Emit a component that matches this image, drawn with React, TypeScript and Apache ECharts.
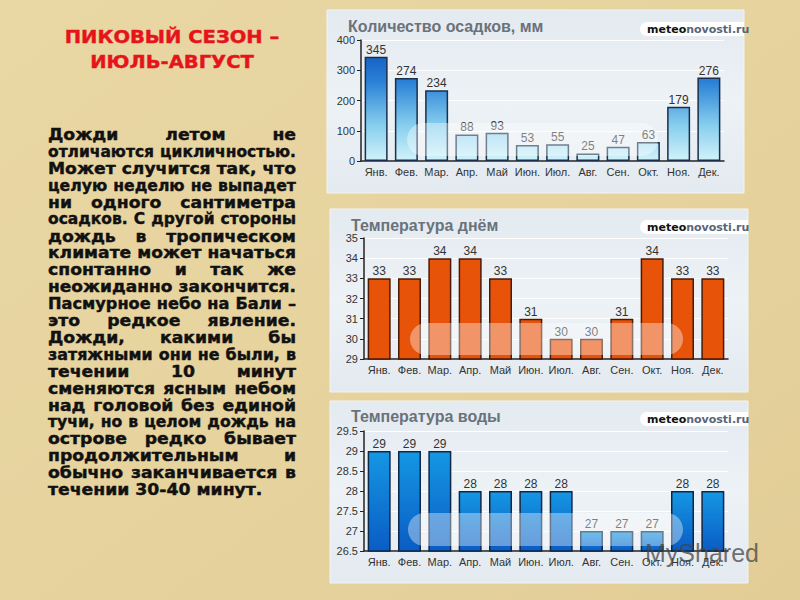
import React, { useEffect, useRef } from "react";
import * as echarts from "echarts";

const months = ["Янв.", "Фев.", "Мар.", "Апр.", "Май", "Июн.", "Июл.", "Авг.", "Сен.", "Окт.", "Ноя.", "Дек."];
const precip = [345, 274, 234, 88, 93, 53, 55, 25, 47, 63, 179, 276];
const dayTemp = [33, 33, 34, 34, 33, 31, 30, 30, 31, 34, 33, 33];
const waterTemp = [29, 29, 29, 28, 28, 28, 28, 27, 27, 27, 28, 28];

const titleLines = ["ПИКОВЫЙ СЕЗОН –", "ИЮЛЬ-АВГУСТ"];
const bodyLines = [
  "Дожди летом не",
  "отличаются цикличностью.",
  "Может случится так, что",
  "целую неделю не выпадет",
  "ни одного сантиметра",
  "осадков. С другой стороны",
  "дождь в тропическом",
  "климате может начаться",
  "спонтанно и так же",
  "неожиданно закончится.",
  "Пасмурное небо на Бали –",
  "это редкое явление.",
  "Дожди, какими бы",
  "затяжными они не были, в",
  "течении 10 минут",
  "сменяются ясным небом",
  "над головой без единой",
  "тучи, но в целом дождь на",
  "острове редко бывает",
  "продолжительным и",
  "обычно заканчивается в",
  "течении 30-40 минут.",
];
const panelTitles = ["Количество осадков, мм", "Температура днём", "Температура воды"];

const BODY_SIZE = 15;
const WIDE = 1.15;

function buildBody(): any[] {
  const canvas = document.createElement("canvas");
  const ctx = canvas.getContext("2d")!;
  ctx.font = `bold ${BODY_SIZE}px "DejaVu Sans"`;
  const left = 48;
  const right = 296;
  const W = right - left;
  const out: any[] = [];
  bodyLines.forEach((line, i) => {
    const y = 135 + i * 16.9;
    const words = line.split(" ");
    const last = i === bodyLines.length - 1;
    const widths = words.map((w) => ctx.measureText(w).width);
    const sum = widths.reduce((a, b) => a + b, 0);
    const spaceW = ctx.measureText(" ").width;
    const minGap = 6;
    let scale = Math.min(WIDE, (W - minGap * (words.length - 1)) / sum);
    let gap = words.length > 1 ? (W - sum * scale) / (words.length - 1) : 0;
    if (last) gap = spaceW * scale;
    let x = left;
    words.forEach((w, k) => {
      out.push({
        type: "text",
        x: x,
        y: y,
        scaleX: scale,
        style: {
          text: w,
          fill: "#111111",
          stroke: "#111111",
          lineWidth: 0.4,
          fontSize: BODY_SIZE,
          fontWeight: "bold",
          fontFamily: "DejaVu Sans",
          verticalAlign: "middle",
          align: "left",
        },
      });
      x += widths[k] * scale + gap;
    });
  });
  return out;
}

const panels = [
  { x: 327, y: 10, w: 417, h: 183, tx: 348, ty: 26, py: 22, pill: [407, 123, 251, 33] },
  { x: 330, y: 209, w: 418, h: 183, tx: 351, ty: 225, py: 220, pill: [410, 323, 273, 32] },
  { x: 330, y: 401, w: 418, h: 182, tx: 351, ty: 416, py: 412, pill: [408, 513, 275, 33] },
];

export default function App() {
  const ref = useRef<HTMLDivElement>(null);
  useEffect(() => {
    if (!ref.current) return;
    const chart = echarts.init(ref.current, null, { renderer: "svg" });

    const bg: any[] = [
      {
        type: "rect",
        shape: { x: 0, y: 0, width: 800, height: 600 },
        style: {
          fill: new echarts.graphic.LinearGradient(0, 0, 1, 1, [
            { offset: 0, color: "#e9d7a4" },
            { offset: 0.5, color: "#e6d39e" },
            { offset: 1, color: "#e2cd97" },
          ]),
        },
        z: -10,
      },
    ];
    panels.forEach((p, i) => {
      bg.push({
        type: "rect",
        shape: { x: p.x, y: p.y, width: p.w, height: p.h },
        style: {
          fill: new echarts.graphic.LinearGradient(0, 0, 0, 1, [
            { offset: 0, color: "#e3eaf0" },
            { offset: 0.5, color: "#edf2f6" },
            { offset: 1, color: "#e3eaf0" },
          ]),
          stroke: "#f2f4f4",
          lineWidth: 1,
        },
        z: -5,
      });
      bg.push({
        type: "text",
        x: p.tx,
        y: p.ty,
        style: {
          text: panelTitles[i],
          fill: "#6b7279",
          fontSize: 16,
          fontWeight: "bold",
          fontFamily: "Liberation Sans",
          verticalAlign: "middle",
        },
        z: -4,
      });
      bg.push({
        type: "rect",
        shape: { x: 640, y: p.py, width: p.x + p.w - 640, height: 14, r: [7, 0, 0, 7] },
        style: { fill: "#ffffff" },
        z: -4,
      });
      bg.push({
        type: "text",
        x: 647,
        y: p.py + 7,
        style: {
          text: "{a|meteo}{b|novosti.ru}",
          verticalAlign: "middle",
          rich: {
            a: { fill: "#111111", fontSize: 11, fontWeight: "bold", fontFamily: "DejaVu Sans" },
            b: { fill: "#56657a", fontSize: 11, fontWeight: "bold", fontFamily: "DejaVu Sans" },
          },
        },
        z: -3,
      });
      const [px, py, pw, ph] = p.pill;
      bg.push({
        type: "rect",
        shape: { x: px, y: py, width: pw, height: ph, r: ph / 2 },
        style: { fill: "rgba(255,255,255,0.38)" },
        z: 50,
      });
    });

    const title: any[] = titleLines.map((t, i) => ({
      type: "text",
      x: 172,
      y: 37 + i * 25,
      scaleX: 1.15,
      style: {
        text: t,
        fill: "#e5141b",
        stroke: "#e5141b",
        lineWidth: 0.4,
        fontSize: 17,
        fontWeight: "bold",
        fontFamily: "DejaVu Sans",
        align: "center",
        verticalAlign: "middle",
      },
    }));

    const watermark: any[] = [
      {
        type: "text",
        x: 645,
        y: 553,
        style: {
          text: "MyShared",
          fill: "rgba(70,70,70,0.75)",
          fontSize: 25,
          fontFamily: "Liberation Sans",
          verticalAlign: "middle",
        },
        z: 60,
      },
    ];

    const grids = [
      { left: 361, top: 40, width: 363, height: 121 },
      { left: 364, top: 238, width: 364, height: 121 },
      { left: 364, top: 431, width: 364, height: 120 },
    ];
    const yCfg = [
      { min: 0, max: 400, interval: 100 },
      { min: 29, max: 35, interval: 1 },
      { min: 26.5, max: 29.5, interval: 0.5 },
    ];

    const xAxes = grids.map((_, i) => ({
      type: "category",
      gridIndex: i,
      data: months,
      axisLine: { lineStyle: { color: "#222", width: 1.5 } },
      axisTick: { show: false },
      axisLabel: { color: "#333", fontSize: 11, fontFamily: "Liberation Sans", margin: 5, interval: 0 },
    }));
    const yAxes = yCfg.map((c, i) => ({
      type: "value",
      gridIndex: i,
      min: c.min,
      max: c.max,
      interval: c.interval,
      axisLine: { show: true, lineStyle: { color: "#222", width: 1.5 } },
      axisTick: { show: true, length: 4, lineStyle: { color: "#222" } },
      splitLine: { show: true, lineStyle: { color: "#ffffff", width: 1 } },
      axisLabel: { color: "#333", fontSize: 11, fontFamily: "Liberation Sans", margin: 6 },
    }));

    const labelCommon = {
      show: true,
      position: "top",
      distance: 1,
      color: "#333",
      fontSize: 12,
      fontFamily: "Liberation Sans",
    };

    chart.setOption({
      animation: false,
      graphic: [...bg, ...title, ...buildBody(), ...watermark],
      grid: grids.map((g) => ({ ...g, containLabel: false })),
      xAxis: xAxes,
      yAxis: yAxes,
      series: [
        {
          type: "bar",
          xAxisIndex: 0,
          yAxisIndex: 0,
          data: precip,
          barWidth: 23,
          itemStyle: {
            color: new echarts.graphic.LinearGradient(
              0,
              40,
              0,
              161,
              [
                { offset: 0, color: "#0b4cbc" },
                { offset: 0.35, color: "#2b82d6" },
                { offset: 0.7, color: "#86cdee" },
                { offset: 1, color: "#d2f3fa" },
              ],
              true
            ),
            borderColor: "#1b2f4a",
            borderWidth: 1.5,
          },
          label: labelCommon,
        },
        {
          type: "bar",
          xAxisIndex: 1,
          yAxisIndex: 1,
          data: dayTemp,
          barWidth: 23,
          itemStyle: { color: "#e8530a", borderColor: "#4a1a05", borderWidth: 1.5 },
          label: labelCommon,
        },
        {
          type: "bar",
          xAxisIndex: 2,
          yAxisIndex: 2,
          data: waterTemp,
          barWidth: 23,
          itemStyle: {
            color: new echarts.graphic.LinearGradient(0, 0, 0, 1, [
              { offset: 0, color: "#1597e4" },
              { offset: 1, color: "#0a5cc4" },
            ]),
            borderColor: "#0c2848",
            borderWidth: 1.5,
          },
          label: labelCommon,
        },
      ],
    });
    return () => chart.dispose();
  }, []);
  return <div ref={ref} style={{ position: "absolute", left: 0, top: 0, width: 800, height: 600 }} />;
}
